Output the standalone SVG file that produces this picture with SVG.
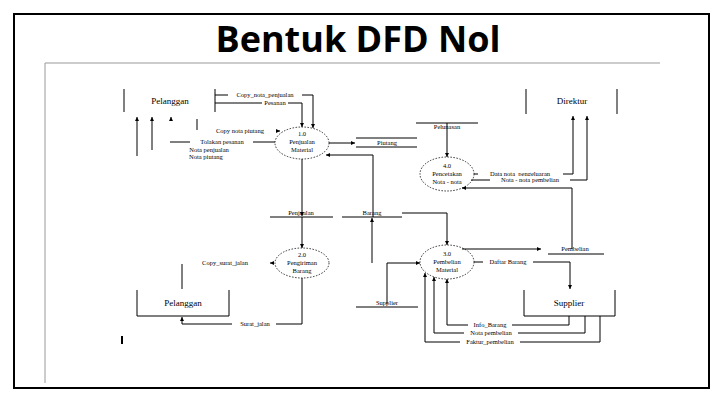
<svg xmlns="http://www.w3.org/2000/svg" width="720" height="405" viewBox="0 0 720 405">
<defs>
<marker id="a" viewBox="0 0 6 6" refX="6" refY="3" markerWidth="4" markerHeight="4" orient="auto"><path d="M0,0L6,3L0,6Z" fill="#000"/></marker>
<style>
.l{fill:none;stroke:#000;stroke-width:1}
.f{fill:none;stroke:#000;stroke-width:1;marker-end:url(#a)}
.p{fill:#fff;stroke:#000;stroke-width:0.8;stroke-dasharray:1.5,1.5}
text{font-family:"Liberation Serif",serif;font-size:6.5px;text-anchor:middle;fill:#000}
.e{font-size:9px}
</style>
</defs>
<rect width="720" height="405" fill="#fff"/>
<rect x="14" y="14" width="695" height="374" fill="none" stroke="#000" stroke-width="2"/>
<path d="M45,63H660M45,63V383" stroke="#999" stroke-width="1" fill="none"/>
<text x="358" y="52" style="font-family:'Open Sans',sans-serif;font-size:36px;font-weight:bold">Bentuk DFD Nol</text>
<rect x="121" y="336" width="2" height="8" fill="#000"/>

<g id="pelanggan1"><path class="l" d="M124,89V112M215,89V112"/><text class="e" x="170" y="104">Pelanggan</text></g>
<g id="direktur"><path class="l" d="M526,89V114M617,89V114"/><text class="e" x="572" y="104">Direktur</text></g>
<g id="pelanggan2"><path class="l" d="M137,290V316H229V290"/><text class="e" x="183" y="306">Pelanggan</text></g>
<g id="supplier"><path class="l" d="M524,290V316H615V290"/><text class="e" x="569" y="306">Supplier</text></g>

<g id="p1"><ellipse class="p" cx="302" cy="143" rx="27" ry="16"/><text x="302" y="136">1.0</text><text x="302" y="144">Penjualan</text><text x="302" y="152">Material</text></g>
<g id="p2"><ellipse class="p" cx="302" cy="263" rx="27" ry="15"/><text x="302" y="257">2.0</text><text x="302" y="265">Pengiriman</text><text x="302" y="273">Barang</text></g>
<g id="p3"><ellipse class="p" cx="447" cy="262" rx="27" ry="17"/><text x="447" y="256">3.0</text><text x="447" y="264">Pembelian</text><text x="447" y="272">Material</text></g>
<g id="p4"><ellipse class="p" cx="447" cy="174" rx="27" ry="17"/><text x="447" y="168">4.0</text><text x="447" y="176">Pencetakan</text><text x="447" y="184">Nota - nota</text></g>

<g id="piutang"><path class="l" d="M356,138H417M356,147H417"/><text x="387" y="145">Piutang</text></g>
<g id="pelunasan"><path class="l" d="M416,123H478"/><text x="447" y="129">Pelunasan</text></g>
<g id="penjualan"><path class="l" d="M270,217H333"/><text x="301" y="215">Penjualan</text></g>
<g id="barang"><path class="l" d="M342,217H402"/><text x="372" y="215">Barang</text></g>
<g id="pembelian"><path class="l" d="M548,254H604"/><text x="575" y="251">Pembelian</text></g>
<g id="supplierstore"><path class="l" d="M356,307H418"/><text x="387" y="305">Supplier</text></g>

<g id="connectors">
<path class="f" d="M215,95H313V128"/>
<path class="f" d="M215,103H302V127"/>
<path class="l" d="M197,119V130"/>
<path class="f" d="M276,131H280"/>
<path class="l" d="M170,142H275"/>
<path class="f" d="M137,156V117"/>
<path class="f" d="M152,150V117"/>
<path class="f" d="M171,120V117"/>
<path class="f" d="M329,143H355"/>
<path class="f" d="M302,159V216"/>
<path class="f" d="M373,217V155H326"/>
<path class="f" d="M447,123V157"/>
<path class="f" d="M474,174H573V116"/>
<path class="f" d="M471,180H587V116"/>
<path class="f" d="M572,249V188H462"/>
<path class="f" d="M302,217V248"/>
<path class="f" d="M273,263H270"/>
<path class="l" d="M182,264V289"/>
<path class="f" d="M302,278V324H182V317"/>
<path class="f" d="M372,263V218"/>
<path class="f" d="M402,213H447V245"/>
<path class="f" d="M387,304V263H420"/>
<path class="f" d="M462,249H541"/>
<path class="f" d="M474,262H570V289"/>
<path class="f" d="M569,316V325H447V279"/>
<path class="f" d="M585,316V333H434V277"/>
<path class="f" d="M600,316V342H425V273"/>
</g>
<g id="labels">
<rect x="228" y="91" width="74" height="7" fill="#fff"/><text x="265" y="97">Copy_nota_penjualan</text>
<rect x="262" y="99" width="26" height="7" fill="#fff"/><text x="275" y="105">Pesanan</text>
<text x="240" y="133">Copy nota piutang</text>
<rect x="190" y="138" width="63" height="7" fill="#fff"/><text x="222" y="144">Tolakan pesanan</text>
<text x="209" y="152">Nota penjualan</text>
<text x="206" y="159">Nota piutang</text>
<rect x="478" y="170" width="85" height="7" fill="#fff"/><text x="520" y="176">Data nota_pengeluaran</text>
<rect x="490" y="176" width="80" height="7" fill="#fff"/><text x="530" y="182">Nota - nota pembelian</text>
<text x="225" y="265">Copy_surat_jalan</text>
<rect x="232" y="320" width="44" height="7" fill="#fff"/><text x="255" y="326">Surat_jalan</text>
<rect x="483" y="258" width="50" height="7" fill="#fff"/><text x="508" y="264">Daftar Barang</text>
<rect x="468" y="321" width="44" height="7" fill="#fff"/><text x="490" y="327">Info_Barang</text>
<rect x="464" y="329" width="54" height="7" fill="#fff"/><text x="491" y="335">Nota pembelian</text>
<rect x="460" y="338" width="60" height="7" fill="#fff"/><text x="490" y="344">Faktur_pembelian</text>
</g>
</svg>
